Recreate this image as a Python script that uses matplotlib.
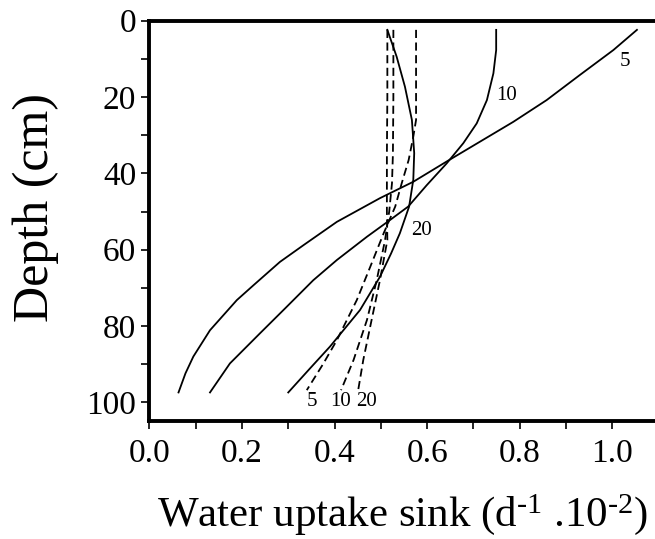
import matplotlib.pyplot as plt
from matplotlib import ticker

plt.rcParams["font.family"] = ["Liberation Serif", "DejaVu Serif"]
plt.rcParams["mathtext.fontset"] = "custom"
plt.rcParams["mathtext.rm"] = "Liberation Serif"

# solid profiles (days 5, 10, 20)
depth_s5 = [2.4, 7.7, 14.2, 20.8, 26.5, 31.7, 36.9, 42.2, 46.5, 52.7, 58.8, 63.2, 69.3, 73.2, 81.1, 88.0, 92.4, 97.4]
sink_s5 = [1.053, 1.002, 0.930, 0.858, 0.786, 0.714, 0.642, 0.570, 0.498, 0.405, 0.333, 0.282, 0.225, 0.189, 0.131, 0.095, 0.078, 0.063]

depth_s10 = [2.4, 7.7, 13.8, 20.8, 26.9, 32.1, 37.4, 43.1, 48.7, 52.2, 56.6, 62.7, 68.0, 75.4, 81.9, 89.8, 97.4]
sink_s10 = [0.749, 0.749, 0.743, 0.729, 0.707, 0.678, 0.642, 0.599, 0.559, 0.520, 0.470, 0.405, 0.354, 0.293, 0.239, 0.174, 0.131]

depth_s20 = [2.4, 9.4, 17.3, 26.0, 34.7, 41.7, 48.7, 55.7, 61.0, 67.1, 75.8, 85.4, 91.1, 97.4]
sink_s20 = [0.514, 0.534, 0.552, 0.567, 0.572, 0.570, 0.561, 0.541, 0.522, 0.498, 0.455, 0.390, 0.347, 0.300]

# dashed profiles (days 5, 10, 20)
depth_d5 = [2.4, 15, 26, 30.4, 36.5, 42.6, 48.7, 55.7, 64.5, 73.2, 83.7, 90, 96.8]
sink_d5 = [0.576, 0.576, 0.576, 0.570, 0.560, 0.545, 0.531, 0.506, 0.477, 0.448, 0.405, 0.375, 0.340]

depth_d10 = [2.4, 20, 35, 42.6, 50, 57.5, 68, 78.4, 88.9, 96.8]
sink_d10 = [0.527, 0.527, 0.526, 0.524, 0.518, 0.509, 0.491, 0.470, 0.441, 0.414]

depth_d20 = [2.4, 20, 35, 42.6, 50, 57.5, 68, 78.4, 88.9, 96.8]
sink_d20 = [0.514, 0.514, 0.513, 0.513, 0.513, 0.514, 0.498, 0.480, 0.462, 0.451]

curve_labels = [("5", 1.027, 10.7), ("10", 0.772, 19.5), ("20", 0.588, 54.9),
                ("5", 0.351, 99.8), ("10", 0.412, 99.8), ("20", 0.470, 99.8)]

fig = plt.figure(figsize=(6.55, 5.39), dpi=100)
ax = fig.add_axes([0.228, 0.2195, 0.772, 0.7421])

for x, y in [(sink_s5, depth_s5), (sink_s10, depth_s10), (sink_s20, depth_s20)]:
    ax.plot(x, y, color="black", linewidth=1.3)
for x, y in [(sink_d5, depth_d5), (sink_d10, depth_d10), (sink_d20, depth_d20)]:
    ax.plot(x, y, color="black", linewidth=1.3, dashes=(4.5, 2.5))

for txt, x, y in curve_labels:
    ax.text(x, y, txt, fontsize=15, ha="center", va="center")

ax.set_xlim(0, 1.092)
ax.set_ylim(104.8, 0)

ax.xaxis.set_major_locator(ticker.MultipleLocator(0.2))
ax.xaxis.set_minor_locator(ticker.MultipleLocator(0.1))
ax.xaxis.set_major_formatter(ticker.FormatStrFormatter("%.1f"))
ax.yaxis.set_major_locator(ticker.MultipleLocator(20))
ax.yaxis.set_minor_locator(ticker.MultipleLocator(10))

ax.tick_params(which="both", direction="out", width=1.2, length=5.5, labelsize=24)
ax.tick_params(axis="x", pad=7)
ax.tick_params(axis="y", pad=4)

ax.spines["right"].set_visible(False)
for side in ["left", "bottom", "top"]:
    ax.spines[side].set_linewidth(2.8)

ax.set_ylabel("Depth (cm)", fontsize=36)
ax.yaxis.set_label_coords(-0.178, 0.534)
ax.set_xlabel(r"Water uptake sink (d$\mathregular{^{\text{-}1}}$ .10$\mathregular{^{\text{-}2}}$)",
              fontsize=31, labelpad=17)

fig.savefig("out.png", dpi=100)
